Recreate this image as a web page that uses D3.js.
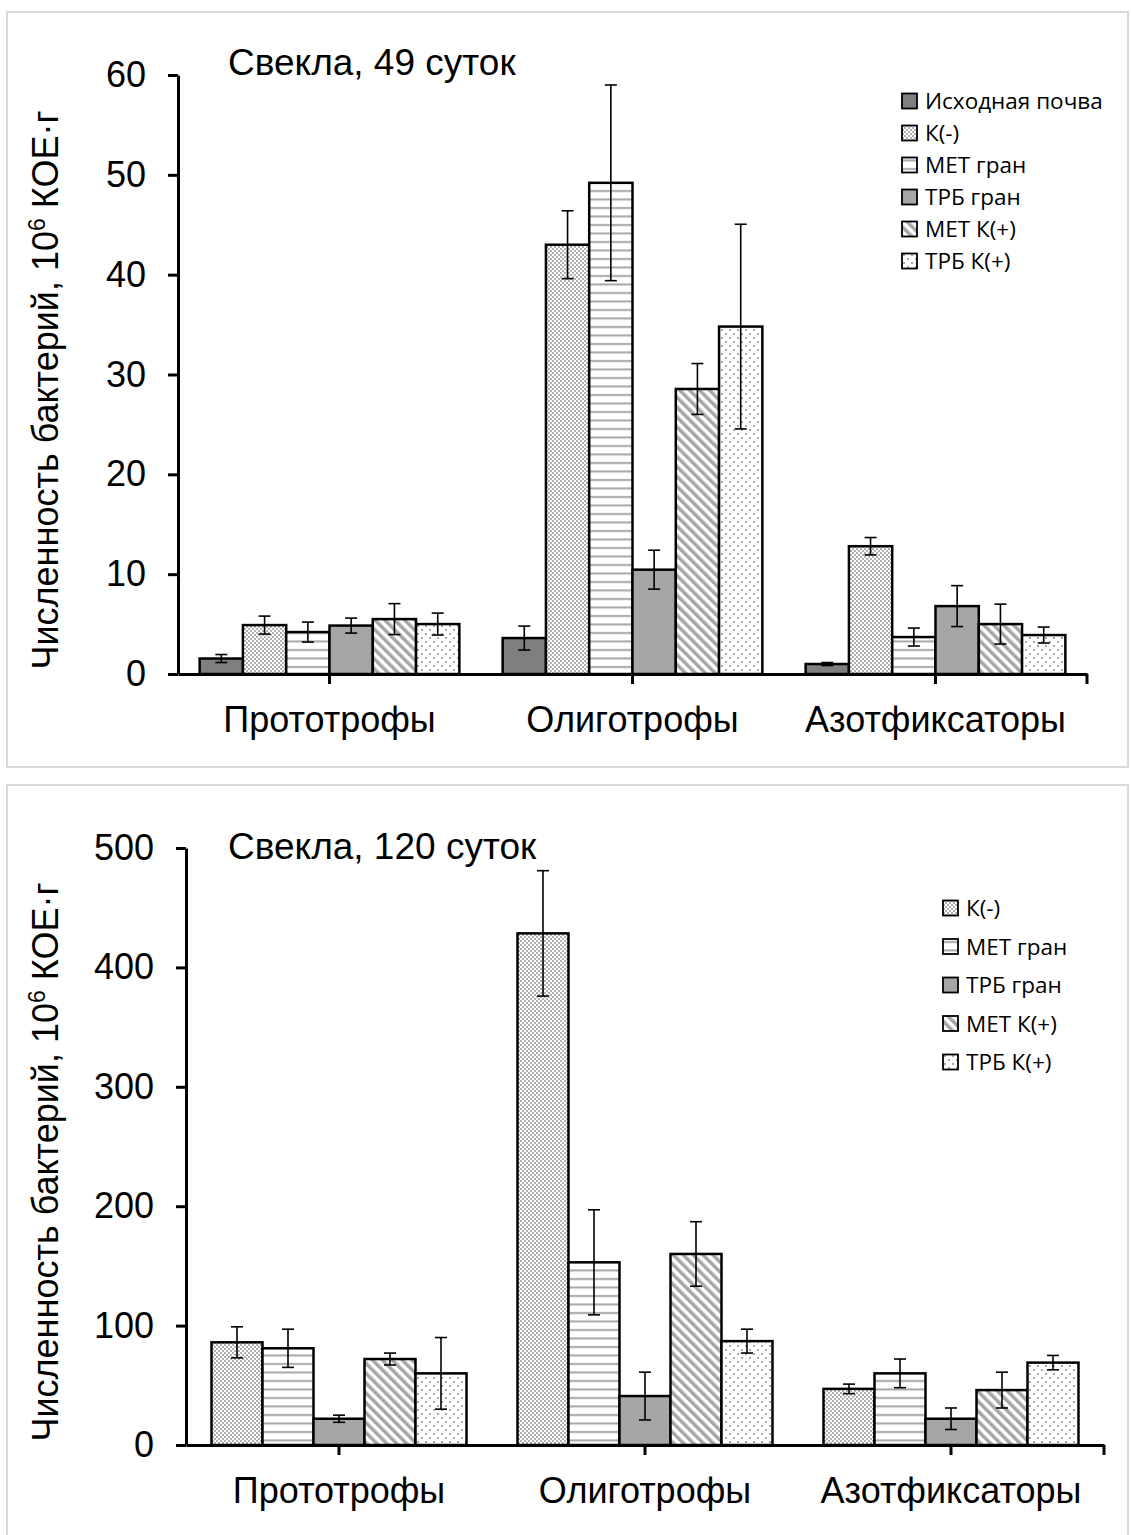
<!DOCTYPE html>
<html>
<head>
<meta charset="utf-8">
<script src="https://cdn.jsdelivr.net/npm/d3@7"></script>
<style>
body { margin: 0; background: #fff; }
text { font-family: "Liberation Sans", Arial, sans-serif; }
.legend text { font-family: "Open Sans", sans-serif; }
</style>
</head>
<body>
<div id="chart"></div>
<script>
const categories = ["Прототрофы", "Олиготрофы", "Азотфиксаторы"];

// 49 суток
const series49 = ["Исходная почва", "К(-)", "МЕТ гран", "ТРБ гран", "МЕТ К(+)", "ТРБ К(+)"];
const values49 = [
  [1.55, 3.6, 1.0],
  [4.9, 43.0, 12.8],
  [4.2, 49.2, 3.7],
  [4.85, 10.45, 6.8],
  [5.5, 28.55, 5.0],
  [5.0, 34.8, 3.9]
];
const errors49 = [
  [0.4, 1.2, 0.15],
  [0.9, 3.4, 0.87],
  [1.0, 9.8, 0.9],
  [0.75, 1.95, 2.05],
  [1.55, 2.55, 2.0],
  [1.1, 10.25, 0.8]
];
const ticks49 = [0, 10, 20, 30, 40, 50, 60];

// 120 суток
const series120 = ["К(-)", "МЕТ гран", "ТРБ гран", "МЕТ К(+)", "ТРБ К(+)"];
const values120 = [
  [86, 428.5, 47],
  [81, 153, 60],
  [22, 41, 22],
  [72, 160, 46],
  [60, 87, 69]
];
const errors120 = [
  [13, 52.5, 4],
  [16, 44, 12],
  [3, 20, 9],
  [5, 27, 15],
  [30, 10, 6]
];
const ticks120 = [0, 100, 200, 300, 400, 500];

const W = 1131, H = 1535;
const svg = d3.select("#chart").append("svg")
  .attr("width", W)
  .attr("height", H);

// patterns for the series
const defs = svg.append("defs");

let p = defs.append("pattern").attr("id", "p-check")
  .attr("width", 4).attr("height", 4).attr("patternUnits", "userSpaceOnUse");
p.append("rect").attr("width", 4).attr("height", 4).attr("fill", "#fff");
p.append("rect").attr("width", 2).attr("height", 2).attr("fill", "#b0b0b0");
p.append("rect").attr("x", 2).attr("y", 2).attr("width", 2).attr("height", 2).attr("fill", "#b0b0b0");

p = defs.append("pattern").attr("id", "p-hline")
  .attr("width", 8).attr("height", 8.5).attr("patternUnits", "userSpaceOnUse");
p.append("rect").attr("width", 8).attr("height", 8.5).attr("fill", "#fff");
p.append("rect").attr("y", 3).attr("width", 8).attr("height", 2).attr("fill", "#a6a6a6");

p = defs.append("pattern").attr("id", "p-diag")
  .attr("width", 7).attr("height", 7).attr("patternUnits", "userSpaceOnUse")
  .attr("patternTransform", "rotate(-45)");
p.append("rect").attr("width", 7).attr("height", 7).attr("fill", "#fff");
p.append("rect").attr("width", 3.5).attr("height", 7).attr("fill", "#a6a6a6");

p = defs.append("pattern").attr("id", "p-dots")
  .attr("width", 8).attr("height", 8).attr("patternUnits", "userSpaceOnUse");
p.append("rect").attr("width", 8).attr("height", 8).attr("fill", "#fff");
p.append("rect").attr("x", 1).attr("y", 1).attr("width", 2).attr("height", 2).attr("fill", "#a8a8a8");
p.append("rect").attr("x", 5).attr("y", 5).attr("width", 2).attr("height", 2).attr("fill", "#a8a8a8");

const fills = {
  "Исходная почва": "#7f7f7f",
  "К(-)": "url(#p-check)",
  "МЕТ гран": "url(#p-hline)",
  "ТРБ гран": "#a6a6a6",
  "МЕТ К(+)": "url(#p-diag)",
  "ТРБ К(+)": "url(#p-dots)"
};

function drawPanel(cfg) {
  const g = svg.append("g");

  // frame
  g.append("rect")
    .attr("x", cfg.frame[0]).attr("y", cfg.frame[1])
    .attr("width", cfg.frame[2]).attr("height", cfg.frame[3])
    .attr("fill", "none").attr("stroke", "#d9d9d9").attr("stroke-width", 2);

  const x0 = d3.scaleBand().domain(categories).range(cfg.xr).padding(0);
  const x1 = d3.scaleBand().domain(cfg.series)
    .range([0, x0.bandwidth()]).paddingInner(0).paddingOuter(0.5);
  const y = d3.scaleLinear().domain([0, cfg.ticks[cfg.ticks.length - 1]]).range(cfg.yr);

  const rows = [];
  cfg.series.forEach((s, i) => {
    categories.forEach((c, j) => {
      rows.push({ s: s, c: c, v: cfg.values[i][j], e: cfg.errors[i][j] });
    });
  });

  g.selectAll("rect.bar")
    .data(rows)
    .enter()
    .append("rect")
    .attr("class", "bar")
    .attr("x", d => x0(d.c) + x1(d.s))
    .attr("y", d => y(d.v))
    .attr("width", x1.bandwidth())
    .attr("height", d => y(0) - y(d.v))
    .attr("fill", d => fills[d.s])
    .attr("stroke", "#000")
    .attr("stroke-width", 2.5);

  // error bars
  const eb = g.selectAll("g.err").data(rows).enter().append("g").attr("class", "err")
    .attr("stroke", "#000").attr("stroke-width", 1.6);
  const cx = d => x0(d.c) + x1(d.s) + x1.bandwidth() / 2;
  eb.append("line")
    .attr("x1", cx).attr("x2", cx)
    .attr("y1", d => y(d.v + d.e)).attr("y2", d => y(d.v - d.e));
  eb.append("line")
    .attr("x1", d => cx(d) - 6).attr("x2", d => cx(d) + 6)
    .attr("y1", d => y(d.v + d.e)).attr("y2", d => y(d.v + d.e));
  eb.append("line")
    .attr("x1", d => cx(d) - 6).attr("x2", d => cx(d) + 6)
    .attr("y1", d => y(d.v - d.e)).attr("y2", d => y(d.v - d.e));

  // y axis
  const yAxis = d3.axisLeft(y).tickValues(cfg.ticks).tickSize(10).tickSizeOuter(0).tickPadding(22);
  const ya = g.append("g")
    .attr("transform", "translate(" + cfg.xr[0] + ",0)")
    .call(yAxis);
  ya.select(".domain").attr("stroke-width", 3);
  ya.selectAll(".tick line").attr("stroke-width", 3);
  ya.selectAll(".tick text").style("font-size", "36px").attr("fill", "#000");

  // x axis
  const xAxis = d3.axisBottom(x0).tickSize(10).tickSizeOuter(0).tickPadding(22);
  const xa = g.append("g")
    .attr("transform", "translate(0," + y(0) + ")")
    .call(xAxis);
  xa.select(".domain").attr("stroke-width", 3);
  xa.selectAll(".tick line").attr("stroke-width", 3);
  xa.selectAll(".tick text").style("font-size", "36px").attr("fill", "#000");
  xa.append("line")
    .attr("x1", cfg.xr[1]).attr("x2", cfg.xr[1])
    .attr("y1", 0).attr("y2", 10)
    .attr("stroke", "#000").attr("stroke-width", 3);

  // title
  g.append("text")
    .attr("x", cfg.titlePos[0]).attr("y", cfg.titlePos[1])
    .style("font-size", "37px")
    .text(cfg.title);

  // y label
  const yl = g.append("text")
    .attr("transform", "translate(" + cfg.ylabPos[0] + "," + cfg.ylabPos[1] + ") rotate(-90)")
    .attr("text-anchor", "middle")
    .style("font-size", "36px");
  yl.append("tspan").text("Численность бактерий, 10");
  yl.append("tspan").attr("baseline-shift", "super").style("font-size", "23px").text("6");
  yl.append("tspan").text(" КОЕ·г");

  // legend
  const lg = g.append("g").attr("class", "legend");
  const items = lg.selectAll("g").data(cfg.series).enter().append("g")
    .attr("transform", (d, i) => "translate(" + cfg.legPos[0] + "," + (cfg.legPos[1] + i * cfg.legStep) + ")");
  items.append("rect")
    .attr("x", 0).attr("y", -7.5).attr("width", 15).attr("height", 15)
    .attr("fill", d => fills[d])
    .attr("stroke", "#000").attr("stroke-width", 1.8);
  items.append("text")
    .attr("x", 23).attr("y", 0).attr("dy", "0.36em")
    .style("font-size", "22.5px")
    .text(d => d);
}

drawPanel({
  frame: [7, 12, 1121, 755],
  xr: [178, 1087], yr: [674, 75],
  series: series49, values: values49, errors: errors49, ticks: ticks49,
  title: "Свекла, 49 суток", titlePos: [228, 75],
  ylabPos: [58, 390],
  legPos: [902, 101], legStep: 32
});

drawPanel({
  frame: [7, 785, 1121, 760],
  xr: [186, 1104], yr: [1445, 848],
  series: series120, values: values120, errors: errors120, ticks: ticks120,
  title: "Свекла, 120 суток", titlePos: [228, 859],
  ylabPos: [58, 1162],
  legPos: [943, 908], legStep: 38.5
});
</script>
</body>
</html>
